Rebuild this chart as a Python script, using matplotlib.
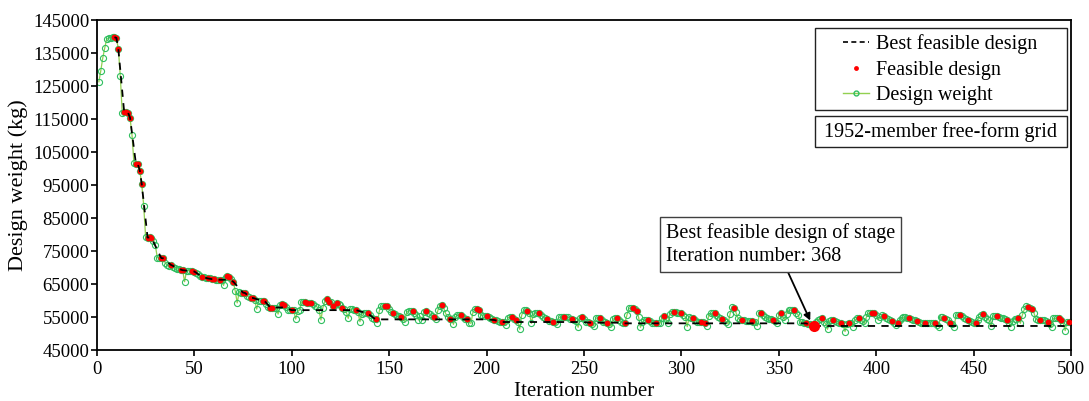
import matplotlib.pyplot as plt
import numpy as np
from matplotlib.lines import Line2D
from matplotlib.patches import Rectangle

plt.rcParams['font.family'] = ['Liberation Serif', 'DejaVu Serif']

# design weight (kg) per iteration, iterations 1..500
weights = [
    126300, 129700, 133500, 136500, 139200, 139500, 139700, 139800, 139800, 139600,
    136200, 128000, 116800, 117000, 117000, 116900, 115400, 110200, 101600, 101500,
    101300, 99400, 95300, 88800, 79200, 79100, 79300, 79000, 78200, 76700,
    73000, 72900, 72900, 72800, 71500, 70800, 70600, 70800, 70200, 69900,
    69700, 69500, 69400, 69200, 65700, 69000, 69100, 69100, 68900, 68800,
    68500, 67900, 67400, 67200, 67000, 66900, 66700, 66700, 66500, 66500,
    66200, 66300, 66300, 66100, 64600, 67000, 67400, 67200, 66600, 65700,
    62900, 59300, 62500, 62200, 62400, 62300, 61500, 61000, 60800, 60800,
    60200, 57400, 59800, 59900, 59900, 59900, 59000, 58200, 57900, 57900,
    57900, 57800, 55900, 58600, 58900, 58800, 58000, 57200, 57100, 57100,
    57000, 54400, 56700, 57100, 59600, 59700, 59500, 59400, 59300, 59400,
    58900, 58300, 58100, 57000, 54100, 57900, 59800, 60400, 59700, 59600,
    58500, 58800, 59300, 59000, 58600, 57900, 57400, 56500, 54600, 57400,
    57500, 57200, 57100, 56400, 53600, 56000, 56300, 56200, 56100, 55500,
    54800, 54500, 54300, 53300, 57000, 58300, 58300, 58300, 58300, 57300,
    56600, 56100, 55800, 55400, 55200, 55100, 54500, 53600, 56400, 56900,
    56900, 56900, 56200, 55600, 54100, 55200, 54100, 56400, 56900, 56300,
    55800, 55300, 55100, 54300, 57000, 58500, 58700, 57700, 56100, 55000,
    54400, 54300, 52800, 55000, 55600, 55600, 55600, 55000, 54500, 54300,
    53300, 53100, 56500, 57300, 57300, 57200, 55600, 55400, 55400, 55300,
    55000, 54600, 54400, 54100, 54000, 53800, 53600, 53500, 53400, 52600,
    54800, 55100, 54900, 54500, 54100, 53600, 51300, 55500, 57100, 57000,
    56900, 56300, 53100, 55900, 56100, 56100, 56100, 55600, 55100, 54600,
    54300, 53900, 53700, 53600, 53400, 52800, 54900, 55000, 55100, 55100,
    55000, 54900, 54500, 54300, 54000, 53800, 51900, 54700, 54900, 54300,
    53600, 53400, 53300, 53000, 52300, 54600, 54800, 54800, 54200, 53600,
    53500, 53300, 53000, 52100, 54400, 54600, 54600, 54100, 53600, 53300,
    53100, 55500, 57600, 57800, 57900, 57300, 56900, 55000, 51900, 53500,
    54100, 54100, 54100, 53700, 53300, 53300, 53300, 53200, 53100, 54800,
    55400, 54500, 53100, 56000, 56400, 56500, 56400, 56300, 56200, 56100,
    55600, 55100, 52100, 55000, 54800, 54800, 54200, 53600, 53600, 53600,
    53400, 53300, 52300, 55400, 56100, 56100, 56100, 55600, 55100, 54700,
    54400, 54000, 53600, 52900, 56000, 58100, 57900, 56400, 54800, 54100,
    54100, 54000, 53900, 53800, 53800, 53800, 53600, 53400, 52300, 56100,
    56100, 55500, 54900, 54700, 54500, 54300, 54100, 53700, 53100, 55600,
    56100, 55100, 54100, 56000, 57100, 57100, 57100, 57100, 56300, 55600,
    53600, 53500, 53300, 53200, 53000, 52800, 52700, 52300, 53500, 54100,
    54400, 54600, 53600, 53000, 51300, 53800, 54100, 54100, 53900, 53600,
    53300, 53100, 52800, 50600, 53000, 53300, 53200, 52100, 54000, 54600,
    54600, 54200, 53700, 53100, 55000, 56100, 56100, 56100, 56100, 55500,
    54100, 55100, 55600, 55300, 54800, 54400, 54100, 53900, 53300, 52600,
    53100, 54000, 54600, 54900, 54900, 54800, 54800, 54400, 54100, 54000,
    53900, 53600, 53300, 53300, 53300, 53300, 53300, 53200, 53100, 53100,
    52600, 52100, 55100, 55000, 54600, 54300, 54100, 53300, 52900, 52100,
    55600, 55600, 55600, 55300, 54800, 54500, 54100, 53900, 53600, 53300,
    53100, 54000, 55100, 55500, 55800, 55000, 54300, 54100, 52300, 55300,
    55400, 55400, 55000, 54700, 54600, 54300, 54100, 53300, 52100, 53900,
    54300, 54300, 54600, 53100, 55600, 57300, 58300, 58100, 57700, 57400,
    56200, 54300, 54100, 54100, 54100, 54100, 53700, 53400, 53000, 52100,
    54600, 54600, 54600, 54600, 54100, 53100, 50900, 53600, 53600, 53600,
]

# iterations whose design was feasible
feasible_iters = [
    9, 10, 11, 14, 15, 16, 17, 20, 21, 22, 23, 26, 27, 28, 33, 34, 38, 43, 44, 49,
    50, 54, 57, 59, 60, 63, 67, 68, 70, 75, 76, 79, 80, 85, 86, 89, 90, 95, 96, 100,
    107, 108, 110, 118, 119, 121, 123, 126, 133, 139, 143, 148, 149, 152, 156, 162, 169, 173, 177, 181,
    187, 190, 195, 196, 200, 204, 208, 213, 215, 221, 227, 231, 234, 240, 244, 249, 253, 258, 262, 267,
    271, 275, 277, 283, 287, 291, 296, 300, 306, 310, 312, 317, 321, 327, 331, 336, 341, 347, 351, 358,
    364, 368, 372, 378, 382, 386, 391, 398, 399, 404, 408, 411, 417, 421, 425, 430, 435, 438, 443, 447,
    451, 455, 462, 467, 473, 478, 480, 484, 488, 494, 495, 499,
]

best_iter = 368
x_max = 500

iters = np.arange(1, len(weights) + 1)
w = np.array(weights)
f_it = np.array(feasible_iters)
f_w = w[f_it - 1]
best_run = np.minimum.accumulate(f_w)
best_x = np.append(f_it, x_max)
best_y = np.append(best_run, best_run[-1])

fig = plt.figure(figsize=(10.89, 4.01), dpi=100)
ax = fig.add_axes([0.089, 0.127, 0.8945, 0.823])

ax.plot(iters, w, color='#92d050', lw=0.9, marker='o', ms=4.4,
        mfc='none', mec='#2fbf5f', mew=0.8, zorder=2)
ax.plot(f_it, f_w, ls='none', marker='o', ms=4.2, color='#ff0000', mec='none', zorder=3)
ax.plot(best_x, best_y, color='black', ls=(0, (4, 3.5)), lw=1.3, zorder=4)
ax.plot([best_iter], [w[best_iter - 1]], marker='o', ms=8, color='#ff0000', mec='none', zorder=5)

ax.set_xlim(0, 500)
ax.set_ylim(45000, 145000)
ax.set_xticks(np.arange(0, 501, 50))
ax.set_yticks(np.arange(45000, 145001, 10000))
ax.tick_params(direction='out', length=4.5, width=1.2, labelsize=13.5, top=False, right=False)
ax.tick_params(axis='y', pad=1)
for s in ax.spines.values():
    s.set_linewidth(1.3)
ax.set_xlabel('Iteration number', fontsize=15, labelpad=3)
ax.set_ylabel('Design weight (kg)', fontsize=16)
ax.yaxis.set_label_coords(-0.071, 0.5)

# legend (frame drawn separately so it can be wider than its content)
handles = [
    Line2D([], [], color='black', ls=(0, (3, 2)), lw=1.2),
    Line2D([], [], ls='none', marker='o', ms=3.5, color='#ff0000', mec='none'),
    Line2D([], [], color='#92d050', lw=1, marker='o', ms=3.5, mfc='none', mec='#2fbf5f'),
]
ax.legend(handles, ['Best feasible design', 'Feasible design', 'Design weight'],
          loc='center', bbox_to_anchor=(0.8655, 0.849), fontsize=14.5,
          frameon=False, handlelength=1.3, handletextpad=0.35,
          borderpad=0, labelspacing=0.32, borderaxespad=0)
ax.add_patch(Rectangle((0.737, 0.727), 0.259, 0.249, transform=ax.transAxes,
                       fill=False, ec='#222222', lw=1.0, zorder=6))

ax.add_patch(Rectangle((0.737, 0.615), 0.259, 0.094, transform=ax.transAxes,
                       fill=True, fc='white', ec='#222222', lw=1.0, zorder=6))
ax.text(0.8665, 0.662, '1952-member free-form grid', transform=ax.transAxes,
        ha='center', va='center', fontsize=14.5, zorder=7)

ax.annotate('Best feasible design of stage\nIteration number: ' + str(best_iter),
            xy=(best_iter - 1, w[best_iter - 1] + 500), xytext=(292, 77000),
            ha='left', va='center', fontsize=14.5, linespacing=1.25,
            bbox=dict(boxstyle='square,pad=0.3', fc='white', ec='#404040', lw=1.0),
            arrowprops=dict(arrowstyle='-|>', color='black', lw=1.3,
                            relpos=(0.52, 0), shrinkA=0, shrinkB=3,
                            mutation_scale=10))

fig.savefig('out.png', dpi=100)
